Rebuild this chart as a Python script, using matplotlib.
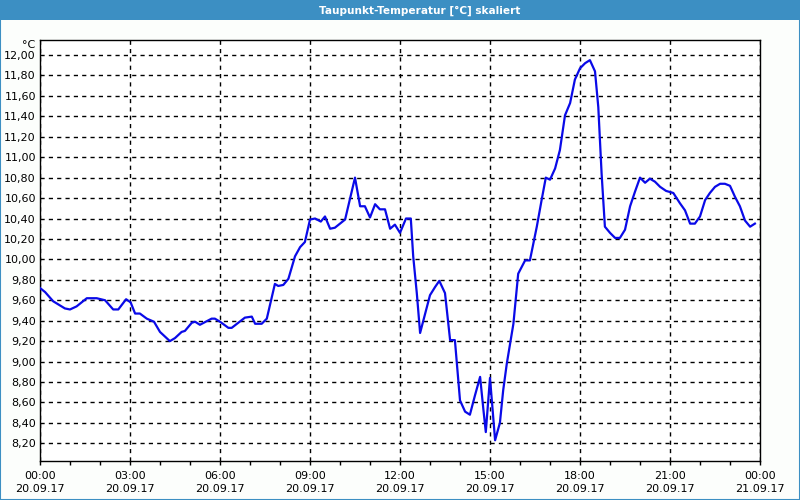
import matplotlib
matplotlib.use('Agg')
import matplotlib.pyplot as plt
from matplotlib.patches import Rectangle
from matplotlib.ticker import FixedLocator, FuncFormatter

# Stunden seit 20.09.17 00:00 und Taupunkt in °C
stunden = [0, 0.17, 0.44, 0.83, 1.0, 1.22, 1.56, 1.89, 2.17, 2.44, 2.61, 2.87, 3.02,
           3.17, 3.33, 3.56, 3.8, 4.0, 4.33, 4.5, 4.72, 4.83, 5.06, 5.17, 5.33, 5.72,
           5.83, 6.0, 6.28, 6.39, 6.61, 6.83, 7.06, 7.17, 7.39, 7.56, 7.83, 7.94, 8.11,
           8.28, 8.5, 8.67, 8.83, 9.0, 9.17, 9.36, 9.5, 9.67, 9.83, 10.17, 10.5, 10.67,
           10.83, 11.0, 11.17, 11.33, 11.5, 11.67, 11.83, 12.0, 12.2, 12.36, 12.44,
           12.56, 12.67, 13.0, 13.17, 13.31, 13.5, 13.67, 13.83, 14.0, 14.17, 14.33,
           14.5, 14.67, 14.78, 14.86, 15.0, 15.17, 15.33, 15.44, 15.56, 15.78, 15.94,
           16.17, 16.33, 16.56, 16.72, 16.86, 17.0, 17.17, 17.33, 17.5, 17.67, 17.83,
           18.0, 18.17, 18.33, 18.5, 18.61, 18.72, 18.83, 19.0, 19.17, 19.33, 19.5,
           19.67, 19.83, 20.0, 20.17, 20.33, 20.5, 20.67, 20.87, 21.11, 21.33, 21.5,
           21.67, 21.83, 22.0, 22.17, 22.33, 22.5, 22.67, 22.83, 23.0, 23.17, 23.33,
           23.5, 23.67, 23.83]
taupunkt = [9.72, 9.68, 9.59, 9.52, 9.51, 9.54, 9.62, 9.62, 9.60, 9.51, 9.51, 9.61, 9.58,
            9.47, 9.47, 9.42, 9.39, 9.29, 9.20, 9.23, 9.29, 9.30, 9.38, 9.39, 9.36, 9.42,
            9.42, 9.39, 9.33, 9.33, 9.38, 9.43, 9.44, 9.37, 9.37, 9.42, 9.76, 9.74, 9.75,
            9.81, 10.03, 10.12, 10.17, 10.39, 10.40, 10.37, 10.42, 10.30, 10.31, 10.39,
            10.80, 10.52, 10.52, 10.41, 10.54, 10.49, 10.49, 10.30, 10.34, 10.26, 10.40,
            10.40, 10.03, 9.67, 9.28, 9.65, 9.73, 9.79, 9.67, 9.21, 9.21, 8.62, 8.51,
            8.48, 8.67, 8.85, 8.53, 8.31, 8.84, 8.23, 8.40, 8.72, 8.98, 9.37, 9.86, 9.99,
            9.99, 10.32, 10.58, 10.80, 10.78, 10.89, 11.07, 11.41, 11.53, 11.76, 11.87,
            11.92, 11.95, 11.84, 11.49, 10.84, 10.32, 10.26, 10.21, 10.21, 10.29, 10.52,
            10.66, 10.80, 10.75, 10.79, 10.76, 10.71, 10.67, 10.65, 10.55, 10.48, 10.35,
            10.35, 10.42, 10.58, 10.65, 10.71, 10.74, 10.74, 10.72, 10.61, 10.52, 10.38,
            10.32, 10.35]

x_ticks = [0, 3, 6, 9, 12, 15, 18, 21, 24]
x_labels = ['00:00\n20.09.17', '03:00\n20.09.17', '06:00\n20.09.17', '09:00\n20.09.17',
            '12:00\n20.09.17', '15:00\n20.09.17', '18:00\n20.09.17', '21:00\n20.09.17',
            '00:00\n21.09.17']
y_ticks = [8.2, 8.4, 8.6, 8.8, 9.0, 9.2, 9.4, 9.6, 9.8, 10.0, 10.2, 10.4, 10.6, 10.8,
           11.0, 11.2, 11.4, 11.6, 11.8, 12.0]

blau = '#3c8fc3'

fig = plt.figure(figsize=(8, 5), dpi=100)
fig.patch.set_facecolor('#fcfefc')

# Titelleiste und Rahmen
fig.patches.append(Rectangle((0, 0.96), 1, 0.04, transform=fig.transFigure,
                             facecolor=blau, edgecolor='none', zorder=0))
fig.patches.append(Rectangle((0.0006, 0.001), 0.9988, 0.998, transform=fig.transFigure,
                             facecolor='none', edgecolor=blau, linewidth=1.5, zorder=1))
fig.text(0.525, 0.979, 'Taupunkt-Temperatur [°C] skaliert', color='white',
         fontsize=7.6, fontweight='bold', ha='center', va='center')

ax = fig.add_axes([40 / 800, 39 / 500, 720 / 800, 421 / 500])
ax.set_facecolor('white')
ax.plot(stunden, taupunkt, color='#0a0ae8', linewidth=1.6, zorder=3)

ax.set_xlim(0, 24)
ax.set_ylim(8.027, 12.147)

ax.xaxis.set_major_locator(FixedLocator(x_ticks))
ax.set_xticklabels(x_labels, fontsize=8, linespacing=1.45)
ax.xaxis.set_minor_locator(FixedLocator(range(25)))
ax.tick_params(axis='x', which='both', direction='out', length=3, width=1, pad=4)

ax.yaxis.set_major_locator(FixedLocator(y_ticks))
ax.yaxis.set_major_formatter(FuncFormatter(lambda v, p: f'{v:.2f}'.replace('.', ',')))
ax.tick_params(axis='y', length=0, pad=3, labelsize=8)

ax.grid(True, which='major', color='black', linestyle=(0, (3, 3)), linewidth=1)
for s in ax.spines.values():
    s.set_linewidth(1)
    s.set_color('black')

fig.text(35 / 800, 1 - 45 / 500, '°C', fontsize=8, ha='right', va='center')

fig.savefig('out.png', dpi=100, facecolor=fig.get_facecolor())
